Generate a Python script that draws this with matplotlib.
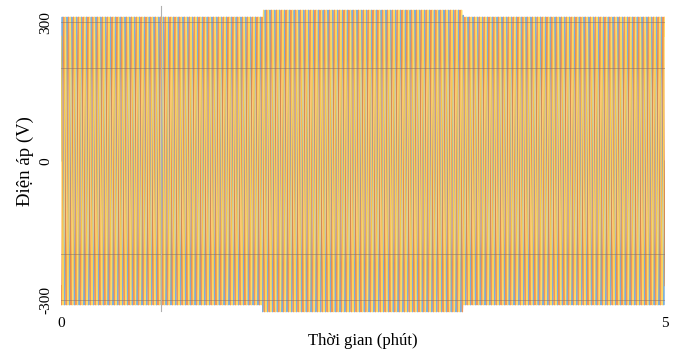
import matplotlib
matplotlib.use("Agg")
import matplotlib.pyplot as plt
import numpy as np

# time segments (minutes) and the peak voltage in each one (swell in the middle)
segment_edges = [0.0, 1.67, 3.33, 5.0]
segment_peaks = [311, 326, 311]
phase_shifts_deg = [0, -120, 120]
phase_colors = ["#5B9BD5", "#ED7D31", "#FFD23F"]
cycles_shown = 125         # apparent cycles over the 5 min window
marker_x = 0.83            # grey marker line seen in the chart
y_ticks = [-300, 0, 300]
x_ticks = [0, 5]
grid_levels = [-300, -200, 200, 300]

plt.rcParams["font.family"] = ["Liberation Serif", "DejaVu Serif"]

fig = plt.figure(figsize=(6.82, 3.51), dpi=100)
ax = fig.add_axes([61 / 682, 1 - 316 / 351, 604 / 682, 310 / 351])

t = np.linspace(segment_edges[0], segment_edges[-1], cycles_shown * 24 + 1)
peak = np.zeros_like(t)
for i, amp in enumerate(segment_peaks):
    peak[(t >= segment_edges[i]) & (t <= segment_edges[i + 1])] = amp

for shift, col in zip(phase_shifts_deg, phase_colors):
    v = peak * np.sin(2 * np.pi * cycles_shown * t / segment_edges[-1] + np.radians(shift))
    ax.plot(t, v, color=col, lw=0.85, alpha=0.8)

for g in grid_levels:
    ax.axhline(g, color="#8a7060", lw=0.6, alpha=0.6, zorder=5)

ax.plot([marker_x, marker_x], [-325, 335], color="#b0b0b0", lw=0.8, clip_on=False, zorder=6)

ax.set_xlim(segment_edges[0], segment_edges[-1])
ax.set_ylim(-335, 335)
ax.set_xticks(x_ticks)
ax.set_xticklabels([str(x) for x in x_ticks], fontsize=11)
ax.set_yticks(y_ticks)
ax.set_yticklabels([str(y) for y in y_ticks], fontsize=11, rotation=90, va="center")
ax.tick_params(length=0, axis="x", pad=1)
ax.tick_params(length=0, axis="y", pad=6)
for s in ax.spines.values():
    s.set_visible(False)

ax.set_xlabel("Thời gian (phút)", fontsize=12, labelpad=2)
ax.set_ylabel("Điện áp (V)", fontsize=13.5, labelpad=4)

fig.savefig("out.png", dpi=100)
